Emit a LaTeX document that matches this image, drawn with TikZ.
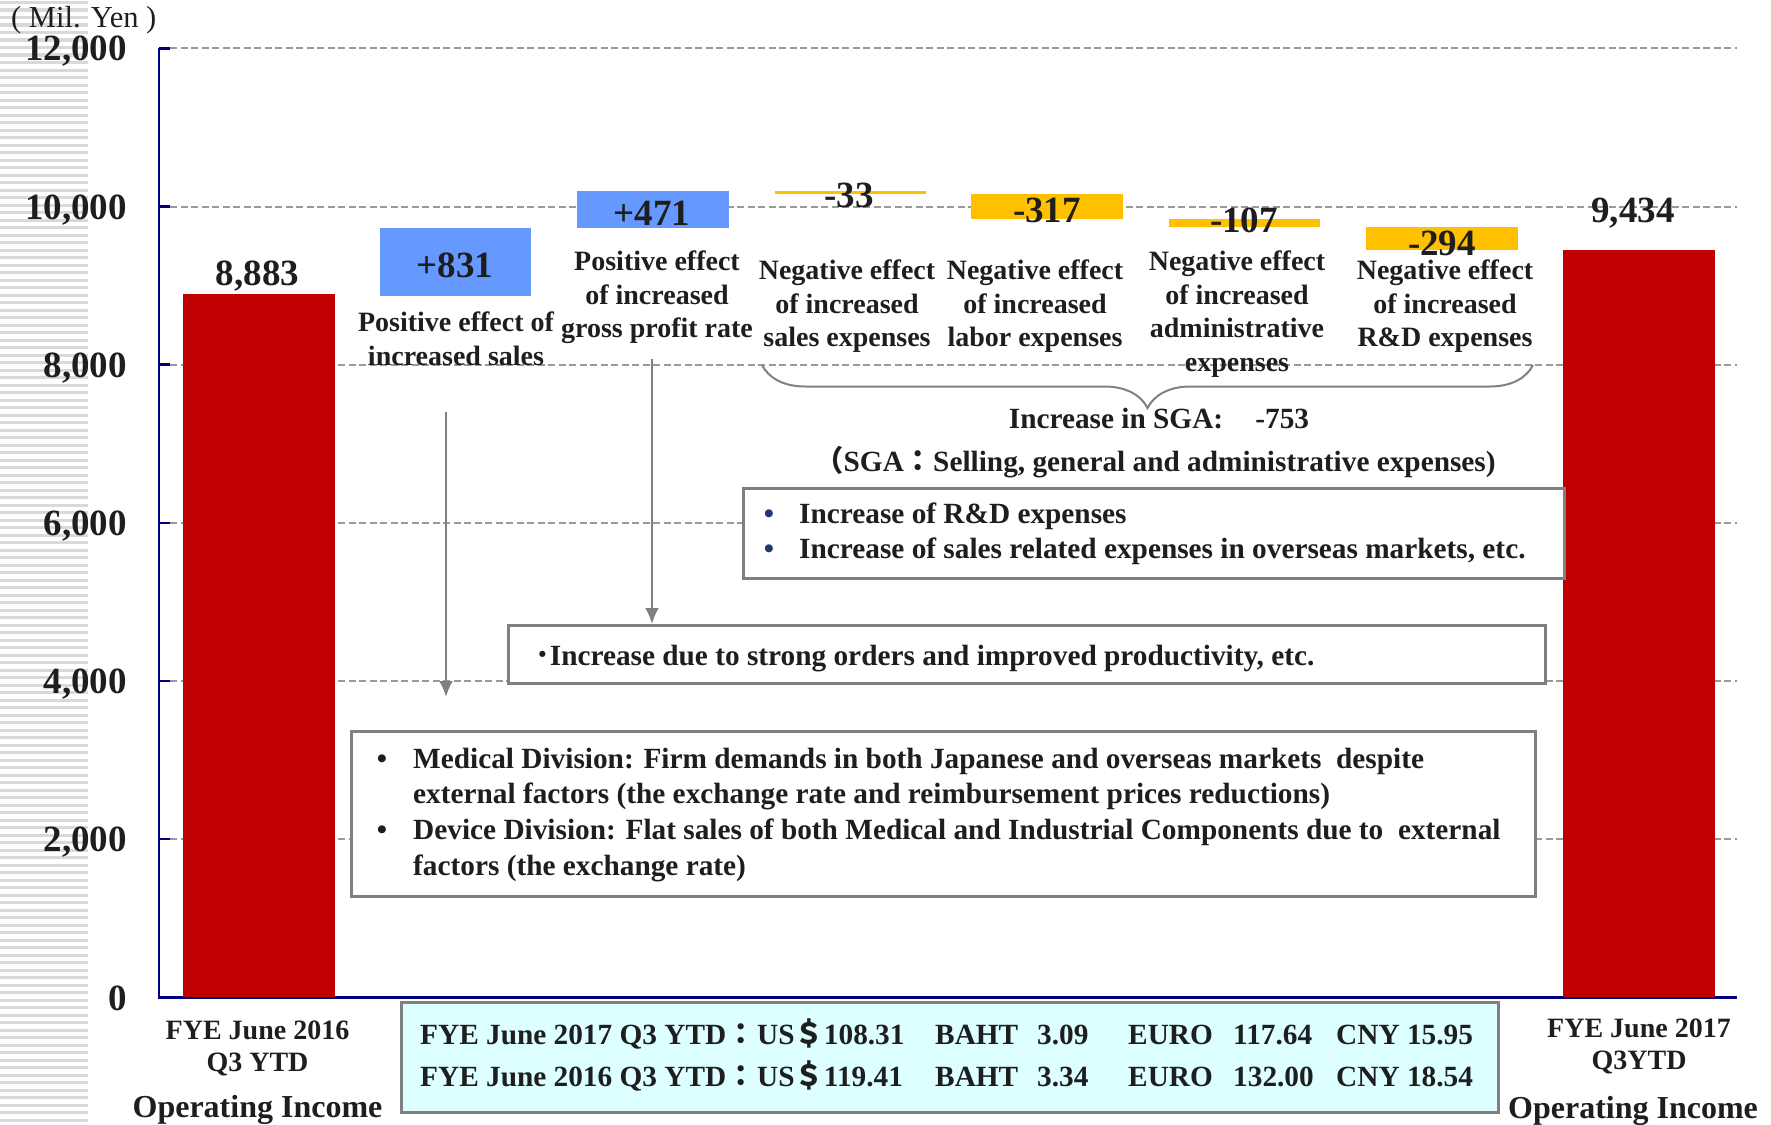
\documentclass[tikz,border=0pt]{standalone}
\usepackage{fontspec}
\setmainfont{Liberation Serif}
\newfontfamily\cjk{Noto Sans CJK JP}
\usetikzlibrary{arrows.meta,decorations.pathreplacing}

\definecolor{barred}{HTML}{C00000}
\definecolor{barblue}{HTML}{6699FF}
\definecolor{baryel}{HTML}{FFC000}
\definecolor{axisblue}{HTML}{000080}
\definecolor{gridgray}{HTML}{9A9A9A}
\definecolor{boxgray}{HTML}{808080}
\definecolor{stripegray}{HTML}{D9D9D9}
\definecolor{ratefill}{HTML}{DDFFFF}
\definecolor{dotblue}{HTML}{1F3A6E}
\definecolor{ink}{HTML}{1E1E1E}

\tikzset{
  numlab/.style={font=\bfseries\fontsize{37}{40}\selectfont, text=ink, inner sep=0pt, anchor=base},
  desc/.style={font=\bfseries\fontsize{28}{33.5}\selectfont, text=ink, inner sep=0pt, anchor=north, align=center},
  txt/.style={font=\bfseries\fontsize{29.3}{35.3}\selectfont, text=ink, inner sep=0pt, anchor=base west},
  bul/.style={txt, anchor=base},
  notebox/.style={draw=boxgray, line width=2.5pt, fill=white, inner sep=0pt, anchor=north west},
  gridln/.style={gridgray, line width=2pt, dash pattern=on 7pt off 3.5pt},
  arr/.style={-{Latex[length=16pt,width=14pt]}, boxgray, line width=2.5pt},
}

\begin{document}
\begin{tikzpicture}[x=1pt,y=-1pt]
\useasboundingbox (0,0) rectangle (1771,1124);
% striped margin
\foreach \sy in {1,8.5,...,1124}
  \fill[stripegray] (0,\sy) rectangle (88,\sy+3.3);
\node[font=\fontsize{30.5}{33}\selectfont, text=ink, inner sep=0pt, anchor=base west] (unit) at (11,28) {( Mil. Yen )};

% grid and axis
\foreach \yy/\lab [count=\i] in {48.3/{12,000},206.5/{10,000},364.7/{8,000},522.9/{6,000},681/{4,000},839.2/{2,000}}{
  \draw[gridln] (170,\yy) -- (1737,\yy);
  \draw[axisblue, line width=2.5pt] (159,\yy) -- (170,\yy);
  \node[numlab, anchor=base east] (ylab\i) at (127,\yy+12.5) {\lab};
}
\node[numlab, anchor=base east] (ylab7) at (127,1010) {0};
\draw[axisblue, line width=2.5pt] (159,48.3) -- (159,997.4) -- (1737,997.4);

% bars
\fill[barred] (183,997.4) rectangle (334.5,294);
\fill[barblue] (380,296) rectangle (531,228);
\fill[barblue] (577,228) rectangle (728.5,191);
\fill[baryel] (775,191) rectangle (926,193.7);
\fill[baryel] (971,193.5) rectangle (1123,218.5);
\fill[baryel] (1168.5,218.5) rectangle (1320,227);
\fill[baryel] (1366,227) rectangle (1518,250.2);
\fill[barred] (1563,997.4) rectangle (1714.5,250.2);

% values
\node[numlab] (v0) at (257.5,285) {8,883};
\node[numlab] (v1) at (455,277) {+831};
\node[numlab] (v2) at (652,225) {+471};
\node[numlab] (v3) at (849,207) {-33};
\node[numlab] (v4) at (1047,222) {-317};
\node[numlab] (v5) at (1244,232) {-107};
\node[numlab] (v6) at (1442,255) {-294};
\node[numlab] (v7) at (1633,222) {9,434};

% item labels
\node[desc] (d1) at (456,312) {Positive effect of\\increased sales};
\node[desc] (d2) at (657,251) {Positive effect\\of increased\\gross profit rate};
\node[desc] (d3) at (847,260) {Negative effect\\of increased\\sales expenses};
\node[desc] (d4) at (1035,260) {Negative effect\\of increased\\labor expenses};
\node[desc] (d5) at (1237,251) {Negative effect\\of increased\\administrative\\expenses};
\node[desc] (d6) at (1445,260) {Negative effect\\of increased\\R\&D expenses};

% SGA brace
\coordinate (brl) at (762,365);
\coordinate (brr) at (1533,365);
\draw[decorate, decoration={brace, amplitude=43pt, mirror}, boxgray, line width=2pt] (brl) -- (brr);
\node[txt, anchor=base] (sga) at (1159,428) {Increase in SGA:\hspace{1.1em}-753};
\node[txt, anchor=base] (sgadef) at (1155,471) {{\cjk （}SGA{\cjk ：}Selling, general and administrative expenses)};

% boxes
\node[notebox, minimum width=821pt, minimum height=90pt] (sgabox) at (742,487) {};
\node[bul, text=dotblue] (sb1) at (769,523) {•};
\node[txt] (st1) at (799,523) {Increase of R\&D expenses};
\node[bul, text=dotblue] (sb2) at (769,558) {•};
\node[txt] (st2) at (799,558) {Increase of sales related expenses in overseas markets, etc.};

\node[notebox, minimum width=1037pt, minimum height=58pt] (ordbox) at (507,624) {};
\node[txt] (ot) at (535,665) {{\cjk ･}Increase due to strong orders and improved productivity, etc.};

\node[notebox, minimum width=1184pt, minimum height=165pt] (medbox) at (350,730) {};
\node[bul] (mb1) at (382,768) {•};
\node[txt, anchor=north west, align=left] (mt1) at (413,748) {Medical Division: Firm demands in both Japanese and overseas markets~ despite\\external factors (the exchange rate and reimbursement prices reductions)};
\node[bul] (mb2) at (382,839) {•};
\node[txt, anchor=north west, align=left] (mt2) at (413,819) {Device Division: Flat sales of both Medical and Industrial Components due to~ external\\factors (the exchange rate)};

% arrows
\coordinate (a1s) at (446,412);
\coordinate (a1e) at (446,697);
\coordinate (a2s) at (652,359);
\draw[arr] (a1s) -- (a1e);
\draw[arr] (a2s) -- (a2s |- ordbox.north);

% exchange rates
\node[notebox, fill=ratefill, minimum width=1097pt, minimum height=110pt] (ratebox) at (400,1001) {};
\node[txt] (r1a) at (420,1044) {FYE June 2017 Q3 YTD{\cjk ：}};
\node[txt] (r1b) at (757,1044) {US{\cjk ＄}108.31};
\node[txt] (r1c) at (935,1044) {BAHT};
\node[txt] (r1d) at (1037,1044) {3.09};
\node[txt] (r1e) at (1128,1044) {EURO};
\node[txt] (r1f) at (1233,1044) {117.64};
\node[txt] (r1g) at (1336,1044) {CNY 15.95};
\node[txt] (r2a) at (420,1086) {FYE June 2016 Q3 YTD{\cjk ：}};
\node[txt] (r2b) at (757,1086) {US{\cjk ＄}119.41};
\node[txt] (r2c) at (935,1086) {BAHT};
\node[txt] (r2d) at (1037,1086) {3.34};
\node[txt] (r2e) at (1128,1086) {EURO};
\node[txt] (r2f) at (1233,1086) {132.00};
\node[txt] (r2g) at (1336,1086) {CNY 18.54};

% categories
\node[desc, font=\bfseries\fontsize{28}{32}\selectfont] (c1) at (257.5,1021) {FYE June 2016\\Q3 YTD};
\node[numlab, font=\bfseries\fontsize{32}{34}\selectfont] (c1op) at (257.5,1117) {Operating Income};
\node[desc, font=\bfseries\fontsize{28}{32}\selectfont] (c2) at (1639,1019) {FYE June 2017\\Q3YTD};
\node[numlab, font=\bfseries\fontsize{32}{34}\selectfont] (c2op) at (1633,1118) {Operating Income};
\end{tikzpicture}
\end{document}
